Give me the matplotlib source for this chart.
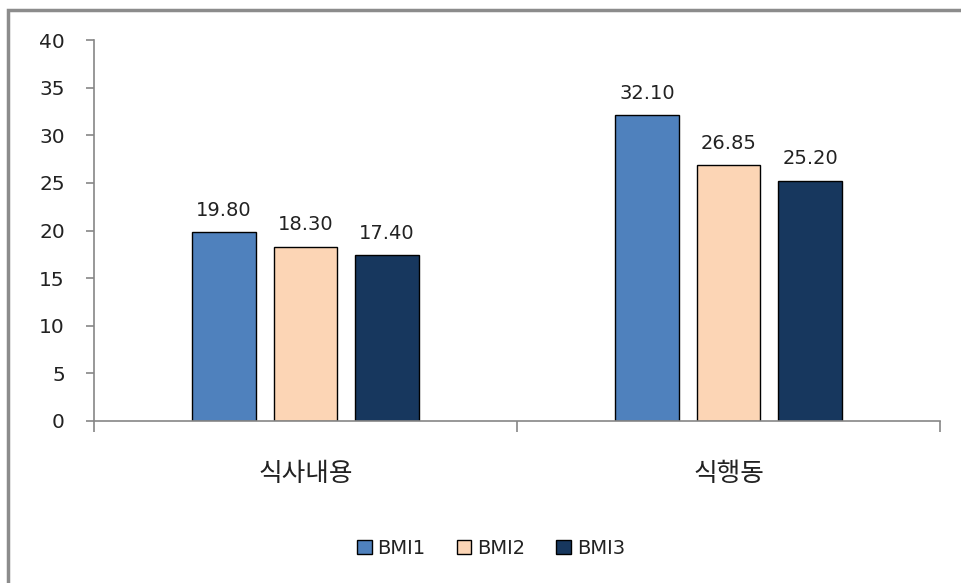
import numpy as np
import matplotlib.pyplot as plt
from matplotlib.patches import Rectangle

categories = ['식사내용', '식행동']
series_names = ['BMI1', 'BMI2', 'BMI3']
bmi1 = [19.80, 32.10]
bmi2 = [18.30, 26.85]
bmi3 = [17.40, 25.20]
y_ticks = [0, 5, 10, 15, 20, 25, 30, 35, 40]

plt.rcParams['font.family'] = ['DejaVu Sans', 'Noto Sans CJK KR']

colors = ['#4f81bd', '#fcd5b5', '#17375e']
grey = '#868686'

fig = plt.figure(figsize=(9.62, 5.83), dpi=100)
ax = fig.add_axes([94 / 962, 1 - 421 / 583, (940 - 94) / 962, (421 - 40) / 583])

x = np.arange(len(categories))
width = 0.15
step = 0.193
for i, (vals, name) in enumerate(zip([bmi1, bmi2, bmi3], series_names)):
    bars = ax.bar(x + (i - 1) * step, vals, width,
        color=colors[i],
        edgecolor='#000000',
        linewidth=1.0,
        label=name)
    for b, v in zip(bars, vals):
        ax.annotate('{0:.2f}'.format(v), (b.get_x() + b.get_width() / 2, v),
            xytext=(0, 9), textcoords='offset points',
            ha='center', va='bottom', fontsize=14, color='#222222')

ax.set_xlim(-0.5, 1.5)
ax.set_ylim(0, 40)
ax.set_yticks(y_ticks)
ax.set_xticks([-0.5, 0.5, 1.5], minor=False)
ax.set_xticklabels([])
ax.set_xticks(x, minor=True)
ax.set_xticklabels(categories, minor=True, fontsize=18.5,
    family=['Noto Sans CJK KR', 'DejaVu Sans'])
ax.tick_params(axis='x', which='major', direction='out', length=8, color=grey, width=1.2)
ax.tick_params(axis='x', which='minor', length=0, pad=29, labelcolor='#222222')
ax.tick_params(axis='y', direction='out', length=6, color=grey, width=1.2,
    pad=15, labelsize=14.5, labelcolor='#222222')

for s in ['top', 'right']:
    ax.spines[s].set_visible(False)
for s in ['left', 'bottom']:
    ax.spines[s].set_color(grey)
    ax.spines[s].set_linewidth(1.2)

leg = fig.legend(loc='center', bbox_to_anchor=(491 / 962, 1 - 548 / 583),
    ncol=3, frameon=False, fontsize=14, handlelength=0.75, handleheight=0.75,
    handletextpad=0.3, columnspacing=1.6)
for t in leg.get_texts():
    t.set_color('#222222')

frame = Rectangle((8 / 962, -0.1), 1.5, 1 - 10 / 583 + 0.1,
    transform=fig.transFigure, fill=False, edgecolor='#8c8c8c', linewidth=2.5)
fig.patches.append(frame)

fig.savefig('out.png', dpi=100)
